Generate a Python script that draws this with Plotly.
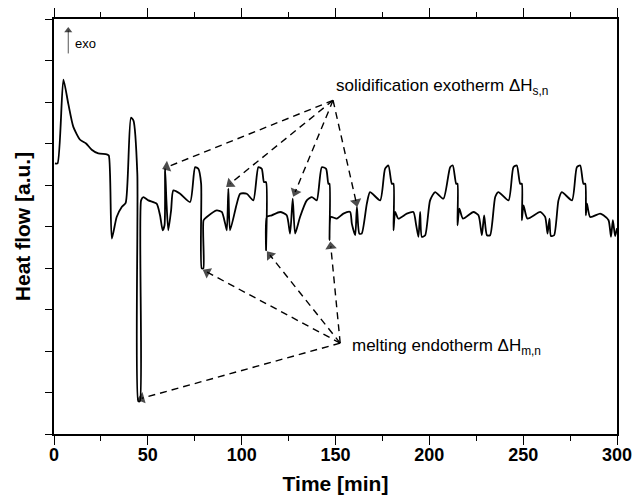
import plotly.graph_objects as go

# DSC trace: time [min] and heat flow [a.u.]
time_min = [0.5, 1.9, 5.0, 7.6, 10.3, 13.9, 17.1, 20.1, 23.6, 28.1, 29.2, 30.8, 33.4, 36.1, 38.2,
            41.0, 42.3, 44.4, 44.9, 45.8, 46.4, 47.6, 50.3, 54.7, 56.5, 57.9, 58.9, 59.2, 59.9,
            60.9, 62.4, 63.6, 67.2, 72.5, 75.2, 76.9, 78.4, 78.7, 79.6, 79.7, 81.4, 86.7, 89.4,
            91.2, 92.1, 92.9, 93.8, 97.4, 99.2, 102.7, 106.2, 108.9, 110.7, 111.9, 113.0, 113.0,
            113.4, 116.0, 120.5, 124.0, 125.8, 127.2, 128.5, 131.1, 134.7, 137.4, 140.0, 142.7,
            145.0, 146.2, 146.8, 146.8, 147.5, 150.7, 154.2, 157.8, 158.7, 160.5, 161.4, 162.7,
            164.0, 166.7, 168.4, 173.8, 176.4, 178.2, 180.0, 180.9, 180.9, 181.8, 183.5, 188.0,
            191.5, 193.0, 194.2, 195.1, 196.0, 197.8, 200.4, 203.1, 207.5, 211.1, 212.5, 214.3,
            215.0, 215.0, 216.0, 217.9, 223.5, 226.2, 228.0, 229.2, 230.7, 232.4, 235.1, 236.8,
            242.2, 244.8, 246.6, 248.4, 249.3, 249.3, 250.2, 252.3, 259.1, 261.7, 263.0, 264.0,
            264.8, 266.5, 268.8, 270.6, 276.0, 278.6, 280.4, 282.1, 283.1, 283.4, 284.0, 285.7,
            291.0, 292.8, 295.5, 296.8, 297.8, 299.0, 300.0]
heat_flow = [6.52, 6.52, 8.54, 7.96, 7.40, 7.09, 7.00, 6.85, 6.76, 6.74, 6.71, 4.71, 5.23, 5.47, 5.57,
             7.62, 7.56, 6.27, 0.79, 0.79, 5.63, 5.71, 5.63, 5.55, 5.27, 4.91, 5.03, 6.39, 5.63,
             4.91, 5.39, 5.87, 5.79, 5.59, 6.43, 6.39, 6.03, 3.99, 3.99, 5.15, 5.23, 5.39, 5.35,
             5.07, 4.91, 5.91, 4.91, 5.55, 5.79, 5.79, 5.63, 6.43, 6.39, 6.07, 6.07, 4.43,
             5.23, 5.27, 5.35, 5.27, 4.83, 5.67, 4.83, 5.23, 5.63, 5.71, 5.63, 6.43,
             6.39, 6.03, 6.03, 4.67, 5.23, 5.19, 5.31, 5.35, 5.07, 4.79, 5.47, 4.83,
             4.83, 5.55, 5.83, 5.63, 6.39, 6.47, 6.03, 6.03, 4.91, 5.35, 5.19, 5.31,
             5.35, 5.03, 4.75, 5.35, 4.75, 4.79, 5.63, 5.83, 5.67, 6.43, 6.47, 6.03,
             6.03, 5.03, 5.43, 5.19, 5.35, 5.27, 4.79, 5.27, 4.79, 4.79, 5.71, 5.83,
             5.63, 6.43, 6.47, 6.03, 6.03, 5.15, 5.51, 5.19, 5.35, 5.23, 4.83, 5.19,
             4.77, 4.79, 5.63, 5.83, 5.63, 6.43, 6.47, 6.03, 6.03, 5.27, 5.55, 5.23,
             5.31, 5.27, 5.15, 4.75, 5.15, 4.77, 4.96]

# arrows: common tail -> heads
solid_tail = (148.7, 8.04)
solid_heads_t = [60.1, 93.8, 128.5, 161.0]
solid_heads_y = [6.43, 6.03, 5.83, 5.59]
melt_tail = (152.5, 2.19)
melt_heads_t = [46.7, 81.6, 115.1, 147.5]
melt_heads_y = [0.86, 3.90, 4.31, 4.52]
exo_arrow_t = [7.6, 7.6]
exo_arrow_y = [9.17, 9.72]

xticks = [0, 50, 100, 150, 200, 250, 300]

fig = go.Figure()
fig.add_trace(go.Scatter(x=time_min, y=heat_flow, mode='lines',
                         line=dict(color='black', width=1.8, shape='spline', smoothing=0.6),
                         showlegend=False))

for tail, hts, hys in [(solid_tail, solid_heads_t, solid_heads_y), (melt_tail, melt_heads_t, melt_heads_y)]:
    for ht, hy in zip(hts, hys):
        fig.add_trace(go.Scatter(x=[tail[0], ht], y=[tail[1], hy], mode='lines+markers',
                                 line=dict(color='black', width=1.4, dash='7px,5px'),
                                 marker=dict(symbol='triangle-up', size=[0, 10], color='black',
                                             angleref='previous', line=dict(width=0)),
                                 showlegend=False))

# small "exo" arrow
fig.add_trace(go.Scatter(x=exo_arrow_t, y=exo_arrow_y, mode='lines+markers',
                         line=dict(color='#555', width=1),
                         marker=dict(symbol='triangle-up', size=[0, 7], color='black',
                                     angleref='previous', line=dict(width=0)),
                         showlegend=False))

font = 'Arial, Liberation Sans, sans-serif'
fig.add_annotation(x=149.3, y=8.35, xref='x', yref='y', text='solidification exotherm ΔH<sub>s,n</sub>',
                   showarrow=False, xanchor='left', yanchor='middle', font=dict(family=font, size=17, color='black'))
fig.add_annotation(x=157.8, y=2.09, xref='x', yref='y', text='melting endotherm ΔH<sub>m,n</sub>',
                   showarrow=False, xanchor='left', yanchor='middle', font=dict(family=font, size=17, color='black'))
fig.add_annotation(x=10.0, y=9.41, xref='x', yref='y', text='exo', showarrow=False,
                   xanchor='left', yanchor='middle', font=dict(family=font, size=13, color='black'))

fig.update_layout(
    width=633, height=498, margin=dict(l=54, r=16, t=19, b=64),
    plot_bgcolor='white', paper_bgcolor='white', showlegend=False,
    font=dict(family=font, color='black'),
)
fig.update_xaxes(range=[0, 300], tickvals=xticks, ticktext=[f'<b>{v}</b>' for v in xticks],
                 ticks='outside', ticklen=9, tickwidth=1.3, tickcolor='black',
                 minor=dict(dtick=25, ticks='outside', ticklen=5, tickwidth=1.3, tickcolor='black'),
                 showline=True, linecolor='black', linewidth=1.5, mirror='ticks', showgrid=False, zeroline=False,
                 automargin=False, ticklabelstandoff=-5,
                 tickfont=dict(size=18), title=dict(text='<b>Time [min]</b>', font=dict(size=21), standoff=12))
fig.update_yaxes(range=[0, 10], dtick=1, showticklabels=False,
                 ticks='outside', ticklen=7, tickwidth=1.3, tickcolor='black',
                 showline=True, linecolor='black', linewidth=1.5, mirror=True, showgrid=False, zeroline=False,
                 automargin=False,
                 title=dict(text='<b>Heat flow [a.u.]</b>', font=dict(size=21), standoff=9))

# drop the default page margin so the figure fills the window exactly
fig.write_html("out.html", config={'displayModeBar': False},
               post_script="document.body.style.margin='0';document.body.style.overflow='hidden';")
